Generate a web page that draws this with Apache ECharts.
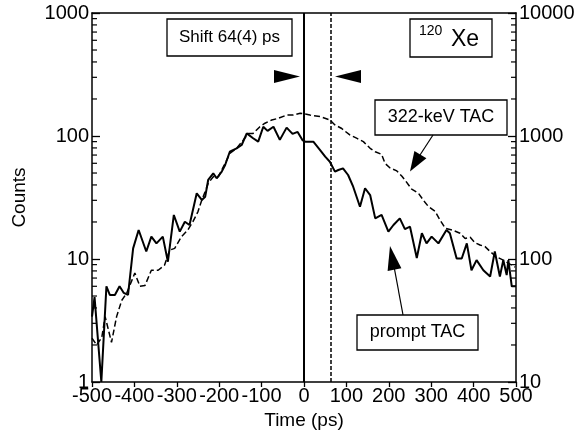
<!DOCTYPE html>
<html>
<head>
<meta charset="utf-8">
<script src="https://cdn.jsdelivr.net/npm/echarts@6/dist/echarts.min.js"></script>
<style>
  html, body { margin: 0; padding: 0; background: #fff; }
  #main { width: 580px; height: 441px; }
</style>
</head>
<body>
<div id="main"></div>
<script>
// prompt TAC (solid)
var promptTime = [-500, -494, -478, -466, -458, -446, -435, -425, -415, -403, -390, -372, -360, -348, -333, -321,
  -307, -293, -281, -270, -253, -241, -233, -226, -214, -206, -194, -186, -175, -159, -147, -135, -120, -108,
  -96, -86, -72, -57, -41, -27, -15, -3, 3, 22, 38, 50, 61, 73, 81, 92, 104, 116, 132, 144, 156, 168, 183, 199,
  211, 226, 238, 250, 266, 278, 289, 301, 317, 336, 344, 360, 372, 384, 395, 407, 423, 439, 450, 462, 470, 478,
  482, 490, 500];
var promptCounts = [3.4, 4.9, 1.0, 6.0, 5.1, 5.1, 6.0, 5.3, 5.1, 12.2, 17.2, 11.5, 15.2, 13.4, 15.2, 9.5,
  22.8, 16.7, 20.1, 18.9, 34.2, 30.2, 32.1, 43.9, 49.7, 45.3, 51.3, 58.1, 74.5, 79.4, 84.5, 105, 95.8, 89.9,
  119, 110, 119, 93, 117, 104, 108, 92, 90, 90, 76.9, 67.9, 61.8, 51.3, 52.9, 54.6, 48.2, 38.7, 26.6, 37.6,
  33.1, 21.4, 22.8, 16.7, 18.9, 21.4, 17.5, 18.3, 10.2, 16.2, 13.4, 15.2, 13.4, 17.2, 16.2, 10.1, 10.1, 13.4,
  8.1, 9.8, 8.1, 7.2, 11.5, 7.2, 9.8, 7.4, 9.8, 6.0, 6.0];

// 322-keV TAC (dashed)
var gateTime = [-500, -489, -477, -469, -454, -442, -430, -418, -406, -399, -387, -375, -360, -344, -329, -317,
  -305, -289, -274, -262, -250, -241, -233, -226, -214, -202, -190, -182, -175, -159, -143, -131, -120, -104,
  -92, -76, -61, -41, -25, -9, 3, 14, 38, 61, 73, 89, 108, 124, 140, 156, 168, 183, 191, 203, 219, 231, 240,
  254, 270, 281, 293, 309, 321, 333, 350, 368, 380, 392, 403, 415, 427, 439, 454, 470, 482, 490, 498];
var gateCounts = [2.27, 2.0, 2.3, 3.4, 2.1, 3.4, 4.6, 5.3, 6.7, 7.7, 6.0, 6.1, 8.1, 8.1, 8.9, 11.8,
  12.2, 15.2, 17.2, 20.1, 24.3, 30.2, 35.3, 41.2, 46.7, 46.7, 56.3, 63.8, 72.3, 79.4, 92.8, 105, 105, 119,
  127, 135, 139, 148, 148, 153, 151, 148, 144, 135, 123, 115, 102, 96, 90, 79.4, 74.5, 71, 60, 55, 52, 47, 43,
  37, 34.2, 30.2, 26.8, 24.5, 20.7, 17.8, 17.2, 16.2, 14.7, 15.0, 13.6, 13.0, 12.6, 11.5, 10.4, 9.8, 9.2, 8.9, 8.6];

var timeTicks = [-500, 500, 100];          // min, max, step
var leftDecades = [1, 1000];
var rightDecades = [10, 10000];
var minorTickVals = [2, 3, 4, 5, 6, 7, 8, 9, 20, 30, 40, 50, 60, 70, 80, 90, 200, 300, 400, 500, 600, 700, 800, 900];
var centroidLines = [0, 64];

function pairs(xs, ys) {
  return xs.map(function (x, i) { return [x, ys[i]]; });
}

// minor ticks: short bars sitting on the left / right frame
function minorTicks(xEdge, dir) {
  return {
    type: 'scatter', xAxisIndex: 0, yAxisIndex: 0, silent: true, clip: false, z: 5,
    symbol: 'rect', symbolSize: [5, 1.2], symbolOffset: [dir * 2.5, 0],
    itemStyle: { color: '#000', opacity: 1 },
    data: minorTickVals.map(function (v) { return [xEdge, v]; })
  };
}

var FONT = '"Liberation Sans", Arial, sans-serif';
var chart = echarts.init(document.getElementById('main'));

function box(x, y, w, h, txt, size) {
  return [
    { type: 'rect', shape: { x: x, y: y, width: w, height: h },
      style: { fill: '#fff', stroke: '#000', lineWidth: 1.3 }, z: 100 },
    { type: 'text', x: x + w / 2, y: y + h / 2, z: 101,
      style: { text: txt, font: size + 'px ' + FONT, fill: '#000',
               align: 'center', verticalAlign: 'middle',
               textAlign: 'center', textVerticalAlign: 'middle' } }
  ];
}

var graphics = []
  .concat(box(167, 19, 125, 37, 'Shift 64(4) ps', 17))
  .concat(box(375, 100, 132, 35, '322-keV TAC', 18))
  .concat(box(357, 315, 121, 35, 'prompt TAC', 18))
  .concat([
    { type: 'rect', shape: { x: 410, y: 19, width: 82, height: 38 },
      style: { fill: '#fff', stroke: '#000', lineWidth: 1.3 }, z: 100 },
    { type: 'text', x: 419, y: 31, z: 101,
      style: { text: '120', font: '14px ' + FONT, fill: '#000', verticalAlign: 'middle', textVerticalAlign: 'middle' } },
    { type: 'text', x: 451, y: 40, z: 101,
      style: { text: 'Xe', font: '23px ' + FONT, fill: '#000', verticalAlign: 'middle', textVerticalAlign: 'middle' } },
    // shift markers
    { type: 'polygon', shape: { points: [[274, 70], [274, 83], [300, 76.5]] }, style: { fill: '#000' }, z: 100 },
    { type: 'polygon', shape: { points: [[361, 70], [361, 83], [335, 76.5]] }, style: { fill: '#000' }, z: 100 },
    // 322-keV arrow
    { type: 'line', shape: { x1: 433, y1: 135, x2: 420, y2: 155 }, style: { stroke: '#000', lineWidth: 1.2 }, z: 100 },
    { type: 'polygon', shape: { points: [[410, 171.5], [414.4, 151], [426.4, 158.2]] }, style: { fill: '#000' }, z: 100 },
    // prompt arrow
    { type: 'line', shape: { x1: 403, y1: 315, x2: 394.5, y2: 269 }, style: { stroke: '#000', lineWidth: 1.2 }, z: 100 },
    { type: 'polygon', shape: { points: [[390, 246], [401.4, 268.3], [387.6, 270.9]] }, style: { fill: '#000' }, z: 100 }
  ]);

var axisCommon = {
  axisLine: { show: true, onZero: false, lineStyle: { color: '#000', width: 1.5 } },
  splitLine: { show: false }
};

var option = {
  animation: false,
  backgroundColor: '#fff',
  textStyle: { fontFamily: FONT, color: '#000' },
  grid: { left: 92, right: 64, top: 13, bottom: 59 },
  xAxis: [{
    type: 'value', min: timeTicks[0], max: timeTicks[1], interval: timeTicks[2], position: 'bottom',
    name: 'Time (ps)', nameLocation: 'middle', nameGap: 28,
    nameTextStyle: { fontSize: 19, color: '#000', fontFamily: FONT },
    axisLine: axisCommon.axisLine, splitLine: axisCommon.splitLine,
    axisTick: { show: true, inside: false, length: 5, lineStyle: { color: '#000', width: 1.3 } },
    axisLabel: { fontSize: 20, color: '#000', margin: 4, fontFamily: FONT }
  }, {
    type: 'value', min: timeTicks[0], max: timeTicks[1], position: 'top',
    axisLine: axisCommon.axisLine, splitLine: axisCommon.splitLine,
    axisTick: { show: false }, axisLabel: { show: false }
  }],
  yAxis: [{
    type: 'log', logBase: 10, min: leftDecades[0], max: leftDecades[1], position: 'left',
    name: 'Counts', nameLocation: 'middle', nameGap: 63, nameRotate: 90,
    nameTextStyle: { fontSize: 19, color: '#000', fontFamily: FONT },
    axisLine: axisCommon.axisLine, splitLine: axisCommon.splitLine,
    axisTick: { show: true, inside: true, length: 8, lineStyle: { color: '#000', width: 1.3 } },
    axisLabel: { fontSize: 20, color: '#000', margin: 3, fontFamily: FONT,
                 formatter: function (v) { return String(Math.round(v)); } }
  }, {
    type: 'log', logBase: 10, min: rightDecades[0], max: rightDecades[1], position: 'right',
    axisLine: axisCommon.axisLine, splitLine: axisCommon.splitLine,
    axisTick: { show: true, inside: true, length: 8, lineStyle: { color: '#000', width: 1.3 } },
    axisLabel: { fontSize: 20, color: '#000', margin: 3, fontFamily: FONT,
                 formatter: function (v) { return String(Math.round(v)); } }
  }],
  series: [{
    name: '322-keV TAC', type: 'line', yAxisIndex: 0, data: pairs(gateTime, gateCounts),
    showSymbol: false, symbol: 'none', silent: true,
    lineStyle: { color: '#000', width: 1.5, type: [6, 3] },
    markLine: {
      silent: true, symbol: 'none', label: { show: false },
      data: [
        { xAxis: centroidLines[0], lineStyle: { color: '#000', width: 2, type: 'solid' } },
        { xAxis: centroidLines[1], lineStyle: { color: '#000', width: 1.5, type: [4, 2] } }
      ]
    }
  }, {
    name: 'prompt TAC', type: 'line', yAxisIndex: 0, data: pairs(promptTime, promptCounts),
    showSymbol: false, symbol: 'none', silent: true,
    lineStyle: { color: '#000', width: 2 }
  },
    minorTicks(timeTicks[0], 1),
    minorTicks(timeTicks[1], -1)
  ],
  graphic: graphics
};

chart.setOption(option);
</script>
</body>
</html>
